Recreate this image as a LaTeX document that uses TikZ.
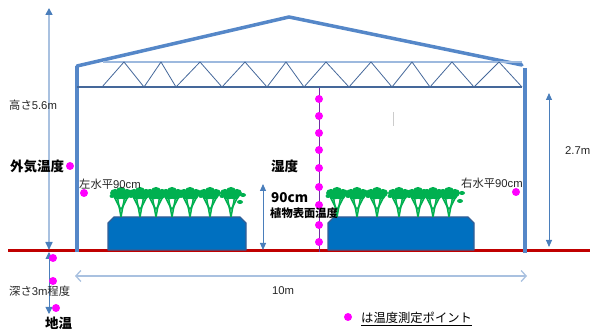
\documentclass[tikz,border=0pt]{standalone}
\usepackage{fontspec}
\setmainfont{Liberation Sans}
\newfontfamily\jp{Noto Sans CJK JP}
\usetikzlibrary{arrows.meta}
\definecolor{framecol}{HTML}{5587C8}
\definecolor{trusscol}{HTML}{45689A}
\definecolor{chordlite}{HTML}{9DB9DE}
\definecolor{dimlite}{HTML}{A9C1E0}
\definecolor{dimdark}{HTML}{4A7EBB}
\definecolor{groundcol}{HTML}{C00000}
\definecolor{bedfill}{HTML}{0070C0}
\definecolor{bededge}{HTML}{335E96}
\definecolor{leafcol}{HTML}{00B050}
\definecolor{probecol}{HTML}{FF00FF}
\definecolor{polecol}{HTML}{7030A0}
\tikzset{
  probe/.style={circle,fill=probecol,inner sep=0pt,minimum size=8pt},
  wall/.style={draw=framecol,line width=4pt},
  roofline/.style={draw=framecol,line width=3.5pt,line cap=round},
  lbl/.style={inner sep=0pt,font=\fontsize{11.3}{13}\selectfont,text=black!85},
  blbl/.style={inner sep=0pt,font=\fontsize{13.5}{15}\selectfont\jp\bfseries,text=black},
  dimline/.style={draw=dimdark,line width=0.9pt,{Triangle[length=7pt,width=6pt]}-{Triangle[length=7pt,width=6pt]}},
  bed/.style={fill=bedfill,draw=bededge,line width=1.3pt,line join=round},
  plant/.pic={
    \fill[leafcol] (-0.8,0) -- (-4,-18) -- (-2.5,-18) -- (0,-4) -- (2.5,-18) -- (4,-18) -- (0.8,0) -- cycle;
    \fill[leafcol] (-0.6,-6) -- (-7,-19) -- (-5.5,-19.5) -- (0,-9) -- cycle;
    \fill[leafcol] (0.6,-6) -- (7,-19) -- (5.5,-19.5) -- (0,-9) -- cycle;
    \fill[leafcol] (-6,-24) ellipse (5 and 4);
    \fill[leafcol] (0,-26) ellipse (5 and 4);
    \fill[leafcol] (6,-24) ellipse (5 and 4);
    \fill[leafcol] (-3,-20.5) ellipse (5 and 3);
    \fill[leafcol] (3.5,-20.5) ellipse (5 and 3);
    \fill[leafcol] (-9,-21) ellipse (2.5 and 2);
  }
}
\begin{document}
\begin{tikzpicture}[x=1pt,y=-1pt]
\useasboundingbox (0,0) rectangle (590,331);

% ground
\draw[groundcol,line width=3pt] (8,251) -- (590,251);

% growing beds
\path[bed] (108,250) -- (108,223) -- (114,217) -- (240,217) -- (246,223) -- (246,250) -- cycle;
\path[bed] (328,250) -- (328,223) -- (334,217) -- (468,217) -- (474,223) -- (474,250) -- cycle;

% plants on the beds
\foreach \px in {121,140,156,172,190,210,231}
  \pic at (\px,217) {plant};
\foreach \px in {337,357,377,399,418,433,449}
  \pic at (\px,217) {plant};
\fill[leafcol] (243,195) ellipse (3 and 2);
\fill[leafcol] (240,202) ellipse (3 and 2);
\fill[leafcol] (462,193) ellipse (3 and 2);
\fill[leafcol] (460,201) ellipse (3 and 2);

% building frame
\coordinate (eaveL) at (77,66);
\coordinate (peak) at (289,17);
\coordinate (eaveR) at (522,65);
\draw[wall] (77,66) -- (77,252);
\draw[wall] (525,68) -- (525,253);
\draw[roofline] (eaveL) -- (peak) -- (eaveR);

% truss
\draw[chordlite,line width=1.2pt] (103,62) -- (522,62);
\draw[trusscol,line width=1.1pt] (77,87) -- (522,87);
\draw[trusscol,line width=0.8pt,line join=round]
  (102,87) -- (124,62) -- (144,87) -- (161,62) -- (176,87) -- (200,62) -- (222,87)
  -- (245,62) -- (267,87) -- (286,62) -- (304,87) -- (326,62) -- (349,87) -- (371,62)
  -- (392,87) -- (412,62) -- (430,87) -- (452,62) -- (474,87) -- (499,62) -- (522,87);

% small mark under the truss
\draw[black!20,line width=0.8pt] (393,112) -- (393,126);

% central measuring pole
\draw[polecol,line width=0.9pt] (319,88) -- (319,252);
\foreach \py [count=\i] in {99,116,133,150,168,187,205,225,242}
  \node[probe] (pole\i) at (319,\py) {};

% overall height
\coordinate (hTop) at (49,8);
\coordinate (hBot) at (49,250);
\draw[dimlite,line width=1.6pt,{Triangle[length=8pt,width=7pt,color=dimdark]}-{Triangle[length=7pt,width=7pt,color=dimdark]}] (hBot) -- (hTop);
\node[lbl,anchor=west] (hLbl) at (9,105) {{\jp 高さ}5.6m};

% underground depth
\coordinate (dTop) at (49,252);
\coordinate (dBot) at (49,314);
\draw[dimdark,line width=0.9pt,{Triangle[length=7pt,width=7pt]}-{Triangle[length=7pt,width=7pt]}] (dTop) -- (dBot);
\node[probe] (soil1) at (53,258) {};
\node[probe] (soil2) at (53,281) {};
\node[probe] (soil3) at (56,308) {};
\node[lbl,anchor=west] (dLbl) at (9,291) {{\jp 深さ}3m{\jp 程度}};
\node[blbl,anchor=west] (soilLbl) at (45,323) {地温};

% outside air
\node[blbl,anchor=west] (airLbl) at (10,166) {外気温度};
\node[probe] (air) at (70,166) {};

% side probes
\node[lbl,anchor=west] (leftLbl) at (79,184) {{\jp 左水平}90cm};
\node[probe] (left) at (84,193) {};
\node[lbl,anchor=west] (rightLbl) at (461,183) {{\jp 右水平}90cm};
\node[probe] (right) at (516,192) {};

% plant height
\coordinate (pTop) at (263,184);
\coordinate (pBot) at (263,250);
\draw[dimline] (pTop) -- (pBot);
\node[blbl,anchor=west] (humLbl) at (271,166) {湿度};
\node[blbl,anchor=west] (cmLbl) at (271,198) {90cm};
\node[anchor=west,inner sep=0pt,font=\fontsize{11.3}{13}\selectfont\jp\bfseries] (surfLbl) at (270,213) {植物表面温度};

% greenhouse eave height
\coordinate (eTop) at (549,93);
\coordinate (eBot) at (549,247);
\draw[dimline] (eTop) -- (eBot);
\node[lbl,anchor=west] (eLbl) at (565,151) {2.7m};

% width
\coordinate (wL) at (75,276);
\coordinate (wR) at (527,276);
\draw[dimlite,line width=1.3pt,{Straight Barb[length=5pt,width=11pt]}-{Straight Barb[length=5pt,width=11pt]}] (wL) -- (wR);
\node[lbl,anchor=center] (wLbl) at (283,291) {10m};

% legend
\node[probe] (legDot) at (348,317) {};
\node[anchor=west,inner sep=0pt,font=\fontsize{12.3}{14}\selectfont\jp,text=black] (legLbl) at (361,319) {\underline{は温度測定ポイント}};
\end{tikzpicture}
\end{document}
